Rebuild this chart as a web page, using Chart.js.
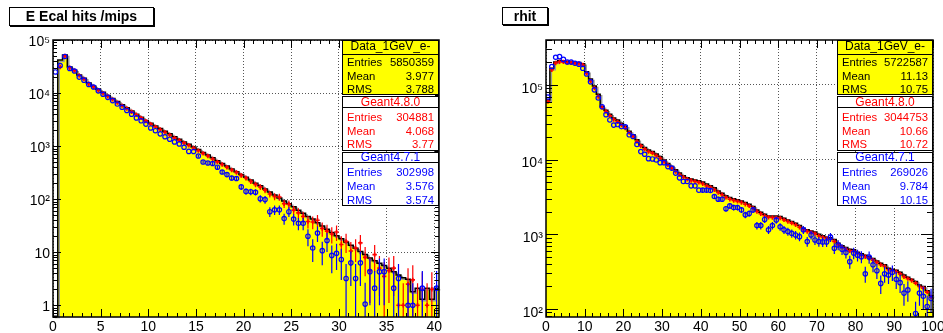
<!DOCTYPE html>
<html>
<head>
<meta charset="utf-8">
<title>E Ecal hits /mips - rhit</title>
<script src="https://cdn.jsdelivr.net/npm/chart.js@4.4.1/dist/chart.umd.min.js"></script>
<style>
  html, body { margin: 0; padding: 0; background: #fff; }
  body { font-family: "Liberation Sans", Arial, Helvetica, sans-serif; }
  #page { position: relative; width: 943px; height: 333px; overflow: hidden; }
  #page canvas { position: absolute; top: 0; }
  .title { position: absolute; box-sizing: border-box; border: 1px solid #000; box-shadow: 1px 1px 0 #000;
           font-weight: bold; font-size: 14px; line-height: 16px; text-align: center; background: #fff; white-space: nowrap; }
  .pave { position: absolute; box-sizing: border-box; border: 1px solid #000; }
  .hdr { position: absolute; text-align: center; font-size: 12px; line-height: 13px; white-space: nowrap; }
  .lbl, .val { position: absolute; font-size: 11.3px; line-height: 14px; white-space: nowrap; }
  .val { text-align: right; }
</style>
</head>
<body>
<div id="page">
  <canvas id="ecalChart" width="470" height="333" style="left:0"></canvas>
  <canvas id="rhitChart" width="473" height="333" style="left:470px"></canvas>
  <div class="title" style="left:9px;top:7px;width:145px;height:19px">E Ecal hits /mips</div>
  <div class="title" style="left:502px;top:7px;width:46px;height:18px">rhit</div>
</div>
<script>
// ---------------- data: E Ecal hits /mips (bins of 0.5 from 0 to 40.5) ----------------
const ecalBinWidth = 0.5;
const ecalXTicks = [0, 5, 10, 15, 20, 25, 30, 35, 40];
const ecalYTicks = [1, 10, 100, 1000, 10000, 100000];

const ecalData = [
  0, 42000, 52000, 31000, 27000, 22000, 19000, 15500, 13500, 11800,
  10300, 9000, 7900, 6900, 6000, 5300, 4600, 4000, 3500, 3050,
  2700, 2400, 2150, 1900, 1700, 1500, 1350, 1200, 1080, 960,
  860, 760, 680, 600, 530, 470, 420, 370, 330, 290,
  260, 230, 200, 178, 155, 136, 120, 105, 92, 82,
  72, 62, 54, 47, 42, 36, 31, 27, 23.5, 20.5,
  18, 15.5, 13.5, 11.8, 10.3, 9, 7.8, 6.9, 6.2, 5.6,
  5, 4.3, 3.7, 3.3, 3.1, 1.8, 2.1, 1.3, 2.1, 1.3, 2.1
];
const ecalG480 = [
  null, 31000, 50000, 30000, 26500, 21500, 18500, 15000, 13000, 11300,
  9900, 8700, 7600, 6600, 5800, 5100, 4450, 3900, 3400, 2950,
  2600, 2300, 2050, 1820, 1620, 1430, 1290, 1150, 1030, 920,
  820, 730, 650, 570, 505, 450, 400, 355, 320, 280,
  250, 215, 190, 170, 148, 125, 112, 110, 82, 80,
  62, 55, 47, 38, 37, 40, 28, 25, 22, 24,
  14, 16, 10.5, 12, 15, 8, 4.5, 9, 5, 3.5,
  4.5, 5, 1, 1, 2.5, 3, 1, 2, 1, 2, null
];
const ecalG480Err = [
  0, 0, 0, 0, 0, 0, 0, 0, 0, 0,
  0, 0, 0, 0, 0, 0, 0, 0, 0, 0,
  0, 0, 0, 0, 0, 0, 0, 0, 0, 0,
  45, 43, 40, 38, 36, 34, 32, 30, 28, 26,
  25, 23, 22, 21, 19, 18, 17, 17, 14, 14,
  12.5, 12, 11, 10, 10, 10, 8.4, 8, 7.4, 7.7,
  6, 6.3, 5, 5.5, 6, 4.5, 3.4, 4.7, 3.5, 3,
  3.4, 3.5, 1.6, 1.6, 2.5, 2.7, 1.6, 2.2, 1.6, 2.2, 0
];
const ecalG471 = [
  25000, 33000, 49000, 29000, 26000, 20000, 17500, 14500, 13000, 11000,
  9500, 8300, 7200, 6200, 5400, 4700, 4000, 3400, 3000, 2600,
  2200, 1950, 1700, 1500, 1350, 1200, 1100, 950, 795, 790,
  650, 500, 480, 470, 400, 325, 290, 250, 245, 170,
  140, 138, 135, 102, 98, 58, 63, 63, 43, 58,
  42, 35, 35, 20, 12, 23, 10.7, 16.6, 8.7, 9.5,
  7.3, 3.2, 6.3, 3.2, 6.3, 1.05, 4.3, 2.1, 4.3, 4.3,
  null, 2.1, 3.2, null, 1, 1, null, 2.1, null, null, 2.1
];
const ecalG471Err = [
  0, 0, 0, 0, 0, 0, 0, 0, 0, 0,
  0, 0, 0, 0, 0, 0, 0, 0, 0, 0,
  0, 0, 0, 0, 0, 0, 0, 0, 0, 0,
  40, 35, 35, 34, 32, 29, 27, 25, 25, 21,
  19, 19, 18, 16, 16, 12, 13, 13, 10, 12,
  10, 9, 9, 7, 5.5, 7.5, 5, 6.5, 4.7, 4.9,
  4.3, 2.8, 4, 2.8, 4, 1.6, 3.3, 2.3, 3.3, 3.3,
  0, 2.3, 2.8, 0, 1.6, 1.6, 0, 2.3, 0, 0, 2.3
];

// ---------------- data: rhit (bins of 1 from 0 to 100) ----------------
const rhitBinWidth = 1;
const rhitXTicks = [0, 10, 20, 30, 40, 50, 60, 70, 80, 90, 100];
const rhitYTicks = [100, 1000, 10000, 100000];

const rhitData = [
  63000, 167000, 203000, 212000, 210000, 205000, 203000, 200000, 200000, 193000,
  150000, 120000, 97000, 75000, 51000, 46000, 40500, 36000, 34000, 30700,
  28000, 24000, 21500, 18400, 16000, 14500, 13500, 12800, 11900, 11000,
  9900, 8900, 8060, 7300, 6600, 6100, 5700, 5500, 5350, 5200,
  5000, 4700, 4450, 4200, 3800, 3550, 3270, 3100, 2980, 2900,
  2800, 2660, 2520, 2350, 2120, 1980, 1860, 1760, 1760, 1760,
  1730, 1640, 1550, 1480, 1410, 1310, 1200, 1150, 1110, 1070,
  1000, 955, 915, 900, 850, 760, 700, 665, 630, 620,
  575, 550, 525, 500, 475, 440, 410, 390, 350, 340,
  330, 310, 285, 265, 250, 233, 210, 200, 175, 150
];
const rhitG480 = [
  60000, 160000, 197000, 205000, 204000, 200000, 198000, 196000, 194000, 185000,
  143000, 113000, 91000, 70000, 50000, 44000, 38500, 34500, 32000, 29000,
  26500, 23000, 20500, 17500, 15300, 13800, 12800, 12200, 11300, 10400,
  9400, 8500, 7700, 6900, 6300, 5800, 5450, 5250, 5100, 4950,
  4750, 4450, 4250, 3950, 3620, 3380, 3120, 2950, 2840, 2760,
  2660, 2530, 2400, 2230, 2020, 1880, 1770, 1690, 1680, 1670,
  1650, 1560, 1480, 1410, 1340, 1240, 1150, 1090, 1060, 1020,
  950, 910, 880, 850, 800, 730, 670, 630, 600, 590,
  550, 520, 500, 475, 450, 420, 390, 370, 335, 325,
  315, 295, 270, 255, 240, 222, 200, 190, 168, 145
];
const rhitG471 = [
  69000, 176000, 235000, 240000, 220000, 203000, 203000, 195000, 190000, 167000,
  140000, 110000, 86000, 67000, 51000, 40000, 34000, 29000, 29500, 27700,
  27500, 21500, 20400, 16000, 12800, 11800, 10300, 10200, 9900, 9100,
  9100, 8060, 7700, 6600, 5700, 5100, 5100, 4450, 4450, 3900,
  3900, 3900, 3850, 3200, 2950, 2950, 2200, 2400, 2280, 2280,
  2120, 1820, 1900, 2120, 1310, 1310, 1580, 1150, 1310, 1550,
  1260, 1150, 1090, 1030, 980, 930, 1150, 800, 980, 840,
  800, 790, 790, 915, 650, 720, 630, 570, 430, 560,
  525, 500, 295, 495, 390, 325, 220, 295, 285, 310,
  250, 225, 163, 180, null, 87, 163, 148, 108, 138
];
const rhitG471Err = [
  0, 0, 0, 0, 0, 0, 0, 0, 0, 0,
  0, 0, 0, 0, 0, 0, 0, 0, 0, 0,
  0, 0, 0, 0, 0, 0, 0, 0, 0, 0,
  0, 0, 0, 0, 0, 0, 0, 0, 0, 0,
  257, 257, 256, 233, 224, 224, 193, 202, 197, 197,
  190, 176, 180, 190, 149, 149, 164, 140, 149, 162,
  146, 140, 136, 132, 129, 126, 140, 117, 129, 120,
  117, 116, 116, 125, 105, 111, 103, 98, 85, 98,
  94, 92, 71, 92, 81, 74, 61, 71, 70, 73,
  65, 62, 53, 55, 0, 38, 53, 50, 43, 48
];

// ---------------- stat boxes ----------------
const statNames = ["Data_1GeV_e-", "Geant4.8.0", "Geant4.7.1"];
const statColors = ["#000000", "#ff0000", "#0000ff"];
const statLabels = ["Entries", "Mean", "RMS"];
const ecalEntries = ["5850359", "304881", "302998"];
const ecalMean = ["3.977", "4.068", "3.576"];
const ecalRms = ["3.788", "3.77", "3.574"];
const rhitEntries = ["5722587", "3044753", "269026"];
const rhitMean = ["11.13", "10.66", "9.784"];
const rhitRms = ["10.75", "10.72", "10.15"];

const yLabels = { 1: "1", 10: "10", 100: "10\u00B2", 1000: "10\u00B3", 10000: "10\u2074", 100000: "10\u2075" };

Chart.defaults.font.family = '"Liberation Sans", Arial, Helvetica, sans-serif';

// boxes: top, separator under the name, bottom, name text top, row centres
const paveLayout = [
  { top: 40, sep: 54, bottom: 95, hdrTop: 39.5, rows: [61.7, 75.7, 89.3], fill: "#ffff00" },
  { top: 96, sep: 107, bottom: 151, hdrTop: 95.5, rows: [117.3, 130.5, 144.3], fill: "#ffffff" },
  { top: 152, sep: 162, bottom: 206, hdrTop: 150.5, rows: [172.3, 186, 200], fill: "#ffffff" }
];

function addStats(left, right, entries, means, rmss) {
  const page = document.getElementById("page");
  const add = (cls, css, text) => {
    const el = document.createElement("div");
    el.className = cls;
    Object.assign(el.style, css);
    if (text !== undefined) el.textContent = text;
    page.appendChild(el);
    return el;
  };
  paveLayout.forEach((p, k) => {
    const color = statColors[k];
    add("pave", { left: left + "px", top: p.top + "px", width: (right - left) + "px", height: (p.sep - p.top + 1) + "px", background: p.fill });
    add("pave", { left: left + "px", top: p.sep + "px", width: (right - left) + "px", height: (p.bottom - p.sep) + "px", background: p.fill });
    add("hdr", { left: left + "px", width: (right - left) + "px", top: p.hdrTop + "px", color: color }, statNames[k]);
    const vals = [entries[k], means[k], rmss[k]];
    statLabels.forEach((lab, r) => {
      add("lbl", { left: (left + 5) + "px", top: (p.rows[r] - 7) + "px", color: color }, lab);
      add("val", { right: (943 - right + 5) + "px", top: (p.rows[r] - 7) + "px", color: color }, vals[r]);
    });
  });
}

// ---------------- plugins ----------------
const shiftPlugin = {
  id: "shift",
  beforeDatasetDraw(chart, args) {
    const ds = chart.data.datasets[args.index];
    if (ds.shift) { chart.ctx.save(); chart.ctx.translate(ds.shift, ds.shift); }
  },
  afterDatasetDraw(chart, args) {
    if (chart.data.datasets[args.index].shift) chart.ctx.restore();
  }
};

const errorBarPlugin = {
  id: "errorBars",
  beforeDatasetDraw(chart, args) {
    const ds = chart.data.datasets[args.index];
    if (!ds.errorColor) return;
    const { ctx, chartArea: a, scales: { y } } = chart;
    ctx.save();
    ctx.beginPath();
    ctx.rect(a.left, a.top, a.right - a.left, a.bottom - a.top);
    ctx.clip();
    ctx.strokeStyle = ds.errorColor;
    ctx.lineWidth = 1.2;
    ctx.beginPath();
    args.meta.data.forEach((pt, j) => {
      const d = ds.data[j];
      if (!d || !d.err) return;
      const top = y.getPixelForValue(d.y + d.err);
      const bot = d.y - d.err > y.min ? y.getPixelForValue(d.y - d.err) : a.bottom;
      ctx.moveTo(pt.x, top);
      ctx.lineTo(pt.x, bot);
    });
    ctx.stroke();
    ctx.restore();
  }
};

const framePlugin = {
  id: "frame",
  afterDatasetsDraw(chart, args, opts) {
    const { ctx, chartArea: a, scales: { x, y } } = chart;
    ctx.save();
    ctx.strokeStyle = "#000";
    ctx.lineWidth = 1;
    ctx.beginPath();
    // x ticks, bottom and top
    for (let v = 0; v <= x.max + 1e-9; v += opts.xMinor) {
      const px = Math.round(x.getPixelForValue(v)) + 0.5;
      const major = Math.abs(v / opts.xMajor - Math.round(v / opts.xMajor)) < 1e-6;
      const len = major ? opts.xLen : opts.xLen / 2;
      ctx.moveTo(px, a.bottom); ctx.lineTo(px, a.bottom - len);
      ctx.moveTo(px, a.top); ctx.lineTo(px, a.top + len);
    }
    // y ticks, left and right
    const e0 = Math.floor(Math.log10(y.min)), e1 = Math.ceil(Math.log10(y.max));
    for (let e = e0; e <= e1; e++) {
      for (let m = 1; m < 10; m++) {
        const v = m * Math.pow(10, e);
        if (v < y.min || v > y.max) continue;
        const py = Math.round(y.getPixelForValue(v)) + 0.5;
        const len = m === 1 ? opts.yLen : opts.yLen / 2;
        ctx.moveTo(a.left, py); ctx.lineTo(a.left + len, py);
        ctx.moveTo(a.right, py); ctx.lineTo(a.right - len, py);
      }
    }
    ctx.stroke();
    ctx.lineWidth = 1.5;
    ctx.strokeRect(a.left, a.top, a.right - a.left, a.bottom - a.top);
    ctx.restore();
  }
};

// ---------------- chart builder ----------------
function buildChart(canvasId, o) {
  const w = o.binWidth;
  const hist = o.data.map((v, i) => ({ x: i * w, y: Math.max(v, o.yMin) }));
  hist.push({ x: o.data.length * w, y: Math.max(o.data[o.data.length - 1], o.yMin) });
  const markers = (vals, errs) => vals
    .map((v, i) => v == null ? null : { x: (i + 0.5) * w, y: v, err: errs ? errs[i] : 0 })
    .filter(p => p);

  return new Chart(document.getElementById(canvasId), {
    type: "line",
    data: {
      datasets: [
        { label: "Geant4.7.1", data: markers(o.g471, o.g471Err), showLine: false,
          pointStyle: "circle", pointRadius: 2.2, pointBorderWidth: 1.2,
          pointBorderColor: "#0000ff", pointBackgroundColor: "rgba(0,0,0,0)", errorColor: "#0000ff" },
        { label: "Geant4.8.0", data: markers(o.g480, o.g480Err), showLine: false,
          pointStyle: "cross", pointRadius: 2.2, pointBorderWidth: 1.6,
          pointBorderColor: "#ff0000", errorColor: "#ff0000" },
        { label: "Data_1GeV_e-", data: hist, stepped: true, borderColor: "#000000",
          borderWidth: 1.5, pointRadius: 0, fill: false },
        { label: "shadow", data: hist, stepped: true, borderColor: "#9a9a9a",
          borderWidth: 1.5, pointRadius: 0, fill: false, shift: 1.5 },
        { label: "fill", data: hist, stepped: true, borderColor: "rgba(0,0,0,0)", borderWidth: 1,
          pointRadius: 0, backgroundColor: "#ffff00", fill: "start" }
      ]
    },
    options: {
      responsive: false,
      animation: false,
      devicePixelRatio: 1,
      layout: { padding: { left: 0, right: o.padRight, top: 40, bottom: 0 } },
      plugins: {
        legend: { display: false },
        tooltip: { enabled: false },
        frame: { xMinor: o.xMinor, xMajor: o.xMajor, xLen: 8, yLen: o.yLen }
      },
      scales: {
        x: {
          type: "linear", min: 0, max: o.xMax,
          afterBuildTicks: s => { s.ticks = o.xTicks.map(v => ({ value: v })); },
          afterFit: s => { s.height = 16; s.paddingLeft = 0; s.paddingRight = 0; },
          grid: { color: "#555", lineWidth: 1, drawTicks: false },
          border: { display: false, dash: [1, 2] },
          ticks: { color: "#000", font: { size: 14 }, padding: 2, maxRotation: 0, autoSkip: false }
        },
        y: {
          type: "logarithmic", min: o.yMin, max: o.yMax,
          afterBuildTicks: s => { s.ticks = o.yTicks.map(v => ({ value: v })); },
          afterFit: s => { s.width = o.yWidth; s.paddingTop = 0; s.paddingBottom = 0; },
          grid: { color: "#555", lineWidth: 1, drawTicks: false },
          border: { display: false, dash: [1, 2] },
          ticks: { color: "#000", font: { size: 14 }, padding: 3, labelOffset: o.labelOffset,
                   autoSkip: false, callback: v => yLabels[v] || "" }
        }
      }
    },
    plugins: [shiftPlugin, errorBarPlugin, framePlugin]
  });
}

buildChart("ecalChart", {
  binWidth: ecalBinWidth, data: ecalData, g480: ecalG480, g480Err: ecalG480Err,
  g471: ecalG471, g471Err: ecalG471Err, xTicks: ecalXTicks, yTicks: ecalYTicks,
  xMax: 40.5, yMin: 0.62, yMax: 100000, yWidth: 53, padRight: 31,
  xMinor: 1, xMajor: 5, yLen: 8, labelOffset: 2
});
buildChart("rhitChart", {
  binWidth: rhitBinWidth, data: rhitData, g480: rhitG480, g480Err: null,
  g471: rhitG471, g471Err: rhitG471Err, xTicks: rhitXTicks, yTicks: rhitYTicks,
  xMax: 100, yMin: 78, yMax: 400000, yWidth: 76, padRight: 10,
  xMinor: 2, xMajor: 10, yLen: 12, labelOffset: 4
});

addStats(342, 439, ecalEntries, ecalMean, ecalRms);
addStats(837, 933, rhitEntries, rhitMean, rhitRms);
</script>
</body>
</html>
